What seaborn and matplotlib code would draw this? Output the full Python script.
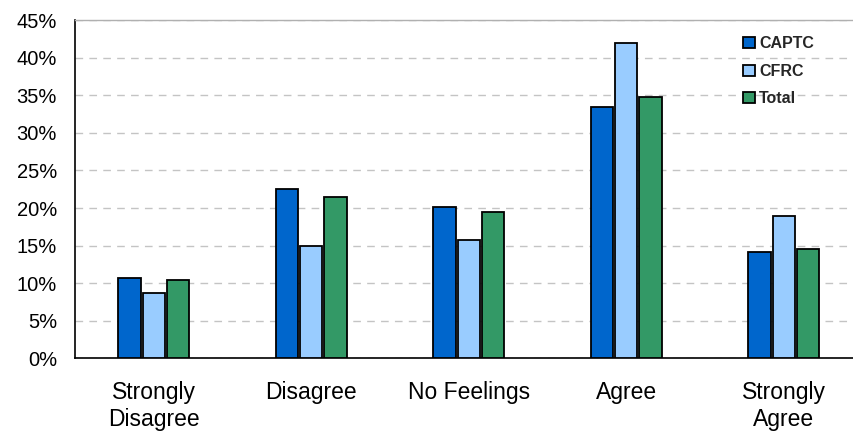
import matplotlib
matplotlib.use("Agg")
import matplotlib.pyplot as plt
from matplotlib.ticker import FuncFormatter, FixedLocator
import seaborn as sns
import pandas as pd

# Survey responses by group (share of respondents)
categories = ["Strongly\nDisagree", "Disagree", "No Feelings", "Agree", "Strongly\nAgree"]
groups = ["CAPTC", "CFRC", "Total"]
captc = [0.107, 0.225, 0.201, 0.334, 0.142]
cfrc = [0.087, 0.150, 0.158, 0.419, 0.190]
total = [0.104, 0.214, 0.195, 0.347, 0.146]
colors = ["#0066CC", "#99CCFF", "#339966"]

df = pd.DataFrame({
    "category": categories * 3,
    "group": [g for g in groups for _ in categories],
    "share": captc + cfrc + total,
})

sns.set_theme(style="white")
plt.rcParams["font.family"] = ["Liberation Sans", "DejaVu Sans"]

fig = plt.figure(figsize=(8.54, 4.34), dpi=100)
ax = fig.add_axes([75 / 854, 1 - 358.4 / 434, 1 - 75 / 854, 338.4 / 434])

sns.barplot(
    data=df, x="category", y="share", hue="group", order=categories,
    hue_order=groups, palette=colors, saturation=1, width=0.46, gap=0.08,
    edgecolor="black", linewidth=1.3, errorbar=None, ax=ax, zorder=3,
)

ax.set_ylim(0, 0.45)
ax.set_xlim(-0.5, -0.5 + (854 - 75) / 157.5)
ax.yaxis.set_major_locator(FixedLocator([i * 0.05 for i in range(10)]))
ax.yaxis.set_major_formatter(FuncFormatter(lambda v, _: f"{v * 100:.0f}%"))

ax.grid(axis="y", color="#C4C4C4", linestyle=(0, (5.5, 4.5)), linewidth=1.0, zorder=0)
ax.grid(axis="x", visible=False)

ax.set_xlabel("")
ax.set_ylabel("")
ax.tick_params(axis="y", length=0, pad=13, labelsize=14.5, colors="black")
ax.tick_params(axis="x", which="major", length=0, pad=16, labelsize=16.5, colors="black")
ax.set_xticks([i + 0.5 for i in range(len(categories) - 1)], minor=True)
ax.tick_params(axis="x", which="minor", direction="in", length=4.5, width=1, color="black")
for lab in ax.get_xticklabels():
    lab.set_linespacing(1.26)

for side in ("left", "bottom"):
    ax.spines[side].set_color("black")
    ax.spines[side].set_linewidth(1.2)
ax.spines["top"].set_color("#B0B0B0")
ax.spines["top"].set_linewidth(1.0)
ax.spines["right"].set_visible(False)

leg = ax.legend(
    loc="upper left", bbox_to_anchor=(737 / 854, 1 - 30 / 434),
    bbox_transform=fig.transFigure, frameon=False,
    handlelength=0.7, handleheight=0.7, handletextpad=0.3,
    labelspacing=0.78, borderaxespad=0, prop={"weight": "bold", "size": 11.5},
)
for h in leg.legend_handles:
    h.set_edgecolor("black")
    h.set_linewidth(1.3)

fig.savefig("out.png", dpi=100)
